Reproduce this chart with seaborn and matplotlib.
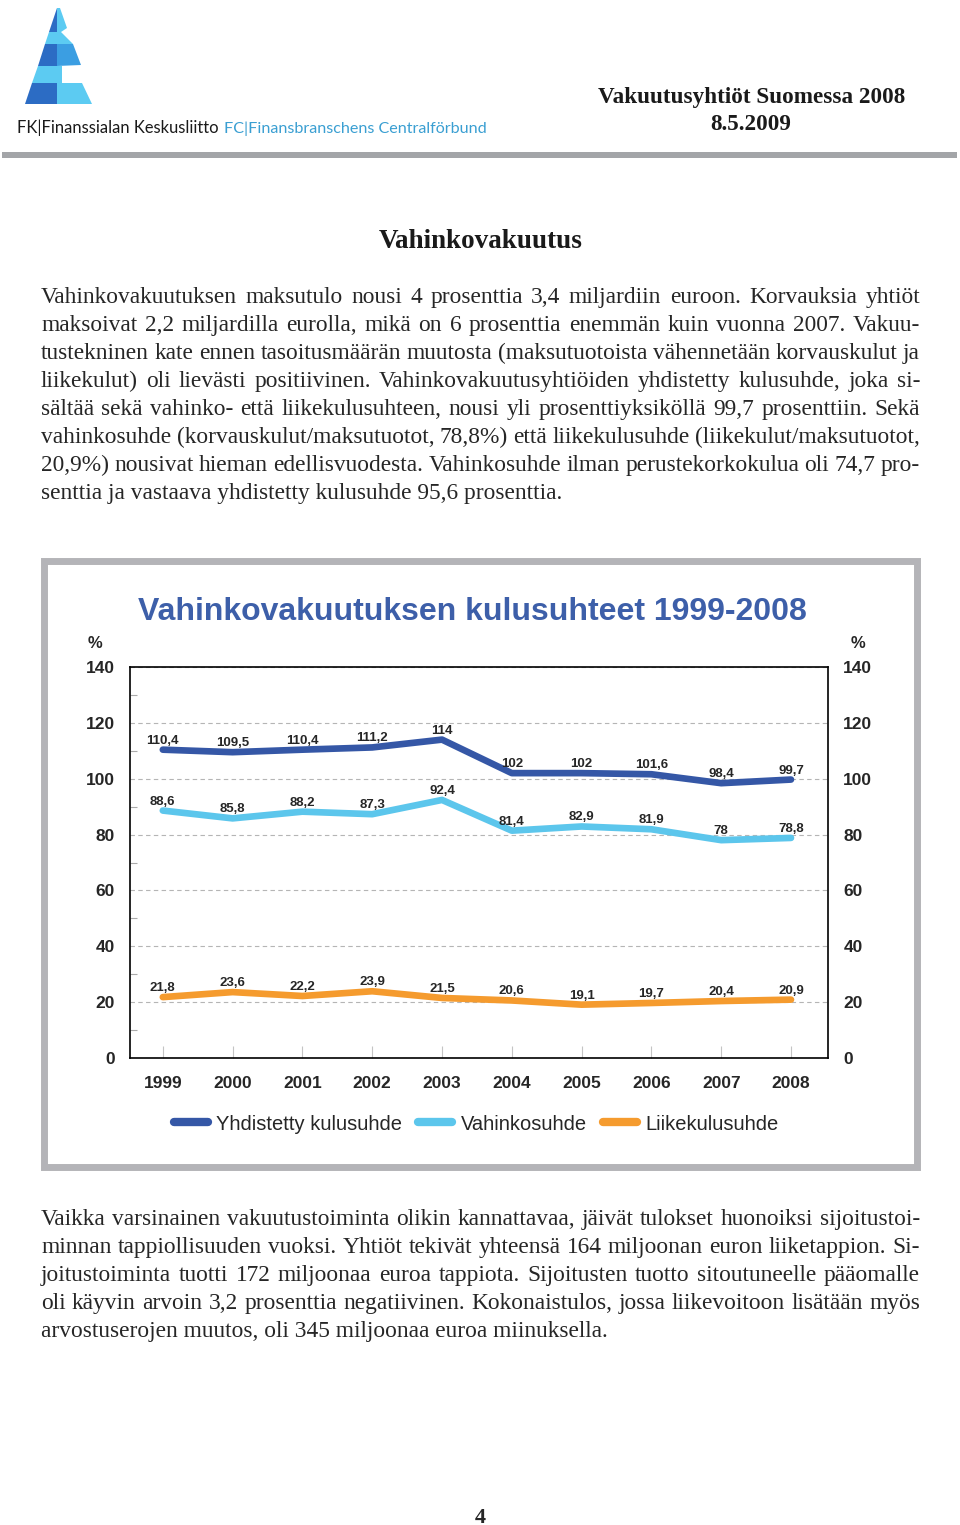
import matplotlib
matplotlib.use("Agg")
from matplotlib import pyplot as plt
from matplotlib.patches import Polygon, Rectangle
import seaborn as sns
import pandas as pd

W, H = 960, 1525

# chart data
vuodet = [1999, 2000, 2001, 2002, 2003, 2004, 2005, 2006, 2007, 2008]
yhdistetty = [110.4, 109.5, 110.4, 111.2, 114, 102, 102, 101.6, 98.4, 99.7]
vahinko = [88.6, 85.8, 88.2, 87.3, 92.4, 81.4, 82.9, 81.9, 78, 78.8]
liike = [21.8, 23.6, 22.2, 23.9, 21.5, 20.6, 19.1, 19.7, 20.4, 20.9]
sarjat = ["Yhdistetty kulusuhde", "Vahinkosuhde", "Liikekulusuhde"]
varit = ["#3557a6", "#5cc6ec", "#f59b2e"]
y_ticks = [0, 20, 40, 60, 80, 100, 120, 140]

otsikko = "Vahinkovakuutuksen kulusuhteet 1999-2008"

kappale1 = [
    "Vahinkovakuutuksen maksutulo nousi 4 prosenttia 3,4 miljardiin euroon. Korvauksia yhtiöt",
    "maksoivat 2,2 miljardilla eurolla, mikä on 6 prosenttia enemmän kuin vuonna 2007. Vakuu-",
    "tustekninen kate ennen tasoitusmäärän muutosta (maksutuotoista vähennetään korvauskulut ja",
    "liikekulut) oli lievästi positiivinen. Vahinkovakuutusyhtiöiden yhdistetty kulusuhde, joka si-",
    "sältää sekä vahinko- että liikekulusuhteen, nousi yli prosenttiyksiköllä 99,7 prosenttiin. Sekä",
    "vahinkosuhde (korvauskulut/maksutuotot, 78,8%) että liikekulusuhde (liikekulut/maksutuotot,",
    "20,9%) nousivat hieman edellisvuodesta. Vahinkosuhde ilman perustekorkokulua oli 74,7 pro-",
    "senttia ja vastaava yhdistetty kulusuhde 95,6 prosenttia.",
]
kappale2 = [
    "Vaikka varsinainen vakuutustoiminta olikin kannattavaa, jäivät tulokset huonoiksi sijoitustoi-",
    "minnan tappiollisuuden vuoksi. Yhtiöt tekivät yhteensä 164 miljoonan euron liiketappion. Si-",
    "joitustoiminta tuotti 172 miljoonaa euroa tappiota. Sijoitusten tuotto sitoutuneelle pääomalle",
    "oli käyvin arvoin 3,2 prosenttia negatiivinen. Kokonaistulos, jossa liikevoitoon lisätään myös",
    "arvostuserojen muutos, oli 345 miljoonaa euroa miinuksella.",
]

sns.set_theme(style="white")
plt.rcParams['font.family'] = ['Liberation Sans', 'DejaVu Sans']
SERIF = ['Liberation Serif', 'DejaVu Serif']

fig = plt.figure(figsize=(W / 100, H / 100), dpi=100)
rend = fig.canvas.get_renderer()

# page layer in pixel coordinates
bg = fig.add_axes([0, 0, 1, 1])
bg.set_xlim(0, W)
bg.set_ylim(H, 0)
bg.axis('off')


def justify(lines, x0, x1, y0, step, size):
    for i, line in enumerate(lines):
        y = y0 + i * step
        if i == len(lines) - 1:
            bg.text(x0, y, line, family=SERIF, fontsize=size, va='baseline')
            continue
        words = line.split()
        texts = [bg.text(0, y, w, family=SERIF, fontsize=size, va='baseline') for w in words]
        widths = [t.get_window_extent(rend).width for t in texts]
        gap = (x1 - x0 - sum(widths)) / (len(words) - 1)
        x = x0
        for t, w in zip(texts, widths):
            t.set_x(x)
            x += w + gap


def fit_text(x, y, s, width, **kw):
    t = bg.text(x, y, s, fontsize=10, va='baseline', **kw)
    w = t.get_window_extent(rend).width
    t.set_fontsize(10 * width / w)
    return t


# logo
dark, light, mid = "#2c6cc4", "#5ccbf2", "#3b9ee2"
def xl(y):
    return 57 - (y - 8) * 32 / 96
for y0, y1, c in [(8, 32, dark), (32, 44, light), (44, 66, dark), (66, 83, light), (83, 104, dark)]:
    bg.add_patch(Polygon([(xl(y0), y0), (57, y0), (57, y1), (xl(y1), y1)], color=c, lw=0))
for pts, c in [([(57, 8), (60, 8), (67, 28), (61, 32), (57, 32)], light),
               ([(57, 32), (61, 32), (73, 44), (57, 44)], light),
               ([(57, 44), (73, 44), (81, 65), (57, 66)], mid),
               ([(57, 66), (62, 66), (62, 83), (57, 83)], light),
               ([(57, 83), (82, 83), (92, 104), (57, 104)], light)]:
    bg.add_patch(Polygon(pts, color=c, lw=0))
fit_text(17, 133, "FK|Finanssialan Keskusliitto", 201, family=['Lato', 'DejaVu Sans'], color="#1a1a1a")
fit_text(224, 133, "FC|Finansbranschens Centralförbund", 264, family=['Lato', 'DejaVu Sans'], color="#3a9fd2")

bg.text(752, 103, "Vakuutusyhtiöt Suomessa 2008", ha='center', va='baseline',
        family=SERIF, fontsize=16.7, weight='bold', color="#1a1a1a")
bg.text(751, 130, "8.5.2009", ha='center', va='baseline',
        family=SERIF, fontsize=16.7, weight='bold', color="#1a1a1a")
bg.add_patch(Rectangle((2, 152), 955, 6, color="#a3a5a8", lw=0))

bg.text(481, 248, "Vahinkovakuutus", ha='center', va='baseline',
        family=SERIF, fontsize=19.5, weight='bold', color="#1a1a1a")

justify(kappale1, 41, 920, 303, 28, 16.8)
justify(kappale2, 41, 920, 1225, 28, 16.8)
bg.text(480, 1523, "4", ha='center', va='baseline', family=SERIF, fontsize=16, weight='bold')

# chart frame
bg.add_patch(Rectangle((43.5, 560.5), 873, 606, facecolor='white', edgecolor="#b4b4b8", lw=5))
bg.text(472, 620, otsikko, ha='center', va='baseline', fontsize=23, weight='bold', color="#3d5fa9")
bg.text(95, 643, "%", ha='center', va='center', fontsize=12, weight='bold')
bg.text(858, 643, "%", ha='center', va='center', fontsize=12, weight='bold')

ax = fig.add_axes([130 / W, 1 - 1058 / H, (828 - 130) / W, (1058 - 667) / H])
df = pd.DataFrame({
    'vuosi': vuodet * 3,
    'arvo': yhdistetty + vahinko + liike,
    'sarja': [s for s in sarjat for _ in vuodet],
})
sns.lineplot(data=df, x='vuosi', y='arvo', hue='sarja', hue_order=sarjat, palette=varit,
             linewidth=4.8, solid_joinstyle='round', ax=ax)

for vals in [yhdistetty, vahinko, liike]:
    for x, v in zip(vuodet, vals):
        ax.annotate(f"{v:g}".replace('.', ','), (x, v), xytext=(0, 6.5), textcoords='offset points',
                    ha='center', va='center', fontsize=9.5, weight='bold', zorder=5)

ax.set_xlim(1998.53, 2008.53)
ax.set_ylim(0, 140)
ax.set_yticks(y_ticks)
ax.set_yticks(range(10, 140, 20), minor=True)
ax.set_xticks(vuodet)
ax.set_xticklabels([str(v) for v in vuodet], fontsize=12.5, weight='bold')
ax.set_yticklabels([str(v) for v in y_ticks], fontsize=12.5, weight='bold')
ax.set_xlabel("")
ax.set_ylabel("")
ax.tick_params(axis='y', which='major', length=0, pad=11, labelright=True)
ax.tick_params(axis='y', which='minor', direction='in', length=5, width=0.8, color="#aaaaaa", left=True)
ax.tick_params(axis='x', direction='in', length=9, width=0.8, color="#c4c4c4", pad=13, bottom=True)
ax.grid(axis='y', which='major', ls=(0, (4, 3)), color="#b5b5b5", lw=0.8)
for sp in ax.spines.values():
    sp.set_color('black')
    sp.set_linewidth(1.2)

handles, labels = ax.get_legend_handles_labels()
ax.get_legend().remove()
for h in handles:
    h.set_linewidth(6)
    h.set_solid_capstyle('round')
fig.legend(handles, labels, loc='center', bbox_to_anchor=(476 / W, 1 - 1124 / H), ncol=3,
           frameon=False, fontsize=14.5, handlelength=1.7, handletextpad=0.4, columnspacing=0.8)

fig.savefig("out.png", dpi=100)
